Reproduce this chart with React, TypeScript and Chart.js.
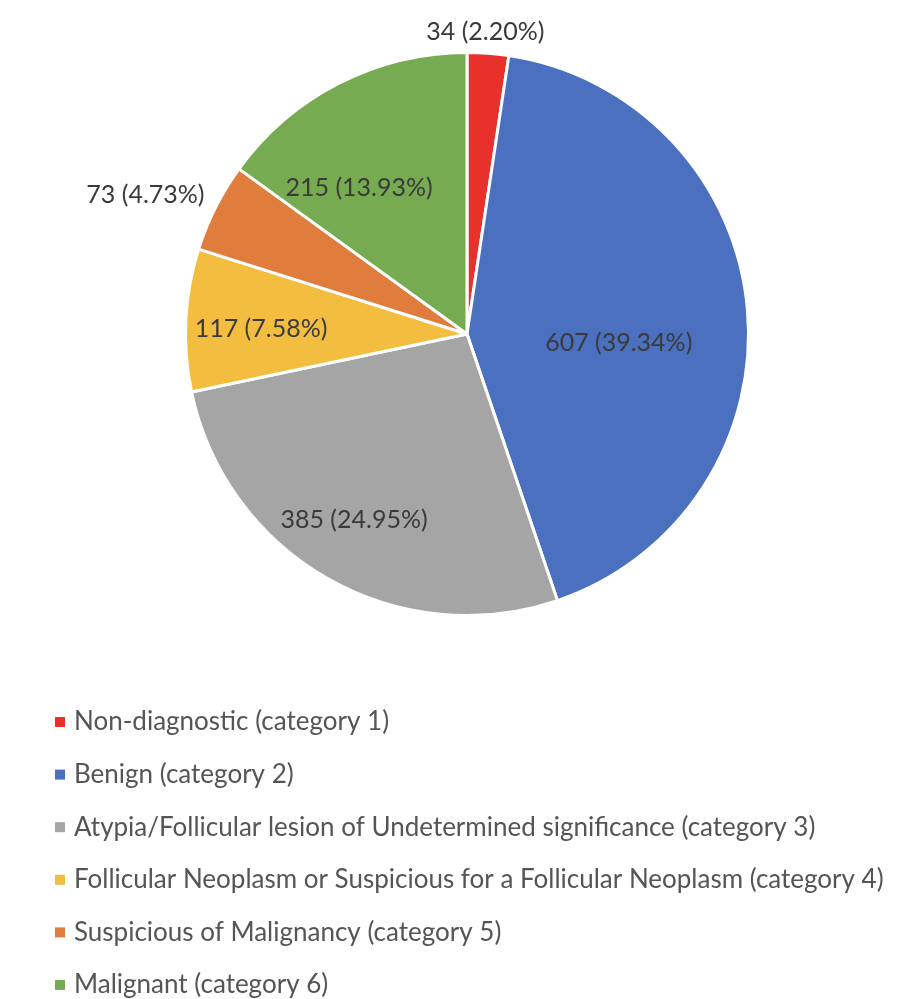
import React, { useEffect, useRef } from "react";
import { Chart, registerables } from "chart.js";
Chart.register(...registerables);

const categories = [
  "Non-diagnostic (category 1)",
  "Benign (category 2)",
  "Atypia/Follicular lesion of Undetermined significance (category 3)",
  "Follicular Neoplasm or Suspicious for a Follicular Neoplasm (category 4)",
  "Suspicious of Malignancy (category 5)",
  "Malignant (category 6)",
];
const counts = [34, 607, 385, 117, 73, 215];
const percentLabels = ["2.20%", "39.34%", "24.95%", "7.58%", "4.73%", "13.93%"];
const colors = ["#E7312A", "#4A70BF", "#A5A5A5", "#F3BE3F", "#E07D3C", "#76AB51"];
const labelRadiusFactor = [1.076, 0.54, 0.773, 0.732, 1.244, 0.646];
const labelAngleShiftDeg = [-0.8, 8.5, 1.6, -1.4, -3.4, -9.35];

const FONT = "Lato, 'Open Sans', sans-serif";

const labelPlugin = {
  id: "sliceLabels",
  afterDatasetsDraw(chart: any) {
    const ctx = chart.ctx;
    const meta = chart.getDatasetMeta(0);
    ctx.save();
    ctx.font = `25px ${FONT}`;
    ctx.fillStyle = "#3A3A3A";
    ctx.textAlign = "center";
    ctx.textBaseline = "middle";
    meta.data.forEach((arc: any, i: number) => {
      const p = arc.getProps(["x", "y", "startAngle", "endAngle", "outerRadius"], true);
      const mid = (p.startAngle + p.endAngle) / 2 + (labelAngleShiftDeg[i] * Math.PI) / 180;
      const r = p.outerRadius * labelRadiusFactor[i];
      const x = p.x + Math.cos(mid) * r;
      const y = p.y + Math.sin(mid) * r;
      ctx.fillText(`${counts[i]} (${percentLabels[i]})`, x, y);
    });
    ctx.restore();
  },
};

const legendPlugin = {
  id: "customLegend",
  afterDraw(chart: any) {
    const ctx = chart.ctx;
    ctx.save();
    ctx.font = `26px ${FONT}`;
    ctx.textBaseline = "middle";
    ctx.textAlign = "left";
    const top = 722;
    const step = 52.6;
    categories.forEach((c, i) => {
      const y = top + i * step;
      ctx.fillStyle = colors[i];
      ctx.fillRect(55, y - 5, 10, 10);
      ctx.fillStyle = "#555555";
      ctx.fillText(c, 74, y);
    });
    ctx.restore();
  },
};

export default function App() {
  const ref = useRef<HTMLCanvasElement | null>(null);
  useEffect(() => {
    document.body.style.margin = "0";
    const chart = new Chart(ref.current as HTMLCanvasElement, {
      type: "pie",
      data: {
        labels: categories,
        datasets: [
          {
            data: counts,
            backgroundColor: colors,
            borderColor: "#FFFFFF",
            borderWidth: 3,
          },
        ],
      },
      options: {
        responsive: false,
        animation: false,
        layout: { padding: { top: 51, bottom: 382, left: 184, right: 159 } },
        plugins: {
          legend: { display: false },
          tooltip: { enabled: false },
        },
      },
      plugins: [labelPlugin, legendPlugin],
    });
    return () => chart.destroy();
  }, []);
  return (
    <div style={{ width: 909, height: 999, background: "#fff" }}>
      <canvas ref={ref} width={909} height={999} style={{ display: "block" }} />
    </div>
  );
}
